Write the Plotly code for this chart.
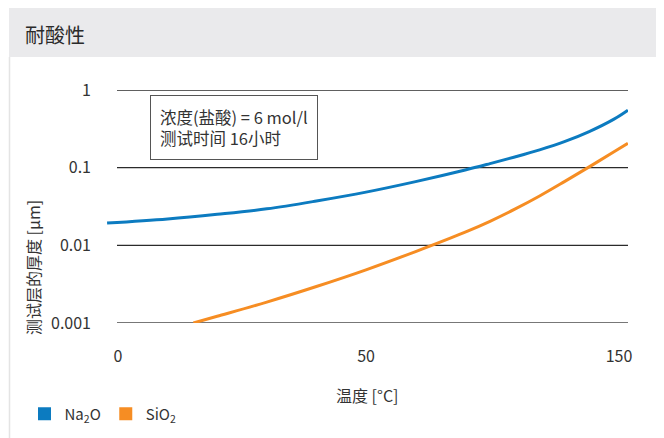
import plotly.graph_objects as go

# ---- data ----
blue_name = "Na<sub>2</sub>O"
blue_x = [-2.2, 10, 20, 30, 40, 50, 60, 70, 75, 80, 85, 90, 95, 100, 102.8]
blue_y = [0.0194, 0.0219, 0.0251, 0.0295, 0.0372, 0.0484, 0.0661, 0.0933, 0.1127, 0.1374, 0.1698,
          0.2163, 0.2917, 0.4217, 0.55]

orange_name = "SiO<sub>2</sub>"
orange_x = [15.2, 20, 30, 40, 50, 60, 70, 75, 80, 85, 90, 95, 100, 102.8]
orange_y = [0.00100, 0.00122, 0.00186, 0.00295, 0.00484, 0.00832, 0.01479, 0.0204, 0.0292, 0.0432,
            0.0661, 0.1023, 0.1603, 0.206]

x_tick_vals = [0, 50, 101]
x_tick_text = ["0", "50", "150"]
y_tick_vals = [1, 0.1, 0.01, 0.001]
y_tick_text = ["1", "0.1", "0.01", "0.001"]

title_text = "耐酸性"
x_title = "温度 [°C]"
y_title = "测试层的厚度 [μm]"
note_text = "浓度(盐酸) = 6 mol/l<br>测试时间 16小时"

BLUE = "#0c7bc0"
ORANGE = "#f68d23"
FONT = "Noto Sans CJK SC, Noto Sans, sans-serif"
TXT = "#333333"

OFF = 8  # page body margin
W, H = 664 - OFF, 438 - OFF
PL, PR, PT, PB = 105, 628, 90, 323  # plot area in page coordinates
ML, MR, MT, MB = PL - OFF, W - (PR - OFF), PT - OFF, H - (PB - OFF)
PW = PR - PL
PH = PB - PT


def px_x(p):
    return (p - PL) / PW


def px_y(p):
    return (PB - p) / PH


X0_PX, X_PER_UNIT = 118, 4.96

fig = go.Figure()
fig.add_trace(go.Scatter(x=blue_x, y=blue_y, mode="lines",
                         line=dict(color=BLUE, width=3, shape="spline", smoothing=1.0),
                         showlegend=False, hoverinfo="skip"))
fig.add_trace(go.Scatter(x=orange_x, y=orange_y, mode="lines",
                         line=dict(color=ORANGE, width=3, shape="spline", smoothing=1.0),
                         showlegend=False, hoverinfo="skip"))
# legend entries (square swatches)
fig.add_trace(go.Scatter(x=[None], y=[None], mode="markers", name=blue_name,
                         marker=dict(symbol="square", size=13, color=BLUE)))
fig.add_trace(go.Scatter(x=[None], y=[None], mode="markers", name=orange_name,
                         marker=dict(symbol="square", size=13, color=ORANGE)))

shapes = []
# header band
shapes.append(dict(type="rect", xref="paper", yref="paper", x0=px_x(9), x1=px_x(670),
                   y0=px_y(57), y1=px_y(6), fillcolor="#eaeaec", line=dict(width=0), layer="below"))
# left border
shapes.append(dict(type="line", xref="paper", yref="paper", x0=px_x(9.5), x1=px_x(9.5),
                   y0=px_y(57), y1=px_y(445), line=dict(color="#e4e4e4", width=1.5)))
# gridlines
for v in y_tick_vals:
    is_base = v == min(y_tick_vals)
    shapes.append(dict(type="line", xref="paper", yref="y", x0=px_x(117), x1=1, y0=v, y1=v,
                       line=dict(color="#777777" if is_base else "#2b2b2b", width=2 if is_base else 1.3),
                       layer="below"))

annotations = [
    dict(text=title_text, xref="paper", yref="paper", x=px_x(23), y=px_y(34), xanchor="left",
         yanchor="middle", showarrow=False, font=dict(size=20, color="#2a2a2a", family=FONT)),
    dict(text=note_text, xref="paper", yref="paper", x=px_x(150), y=px_y(95), xanchor="left",
         yanchor="top", showarrow=False, align="left", bordercolor="#555555", borderwidth=1,
         borderpad=9, bgcolor="white", font=dict(size=16.5, color=TXT, family=FONT)),
    dict(text=x_title, xref="paper", yref="paper", x=px_x(367), y=px_y(395), xanchor="center",
         yanchor="middle", showarrow=False, font=dict(size=16, color=TXT, family=FONT)),
    dict(text=y_title, xref="paper", yref="paper", x=px_x(33), y=px_y(268), xanchor="center",
         yanchor="middle", textangle=-90, showarrow=False, font=dict(size=16, color=TXT, family=FONT)),
]

fig.update_layout(
    width=W, height=H,
    margin=dict(l=ML, r=MR, t=MT, b=MB, autoexpand=False),
    paper_bgcolor="white", plot_bgcolor="white",
    font=dict(family=FONT, size=16, color=TXT),
    shapes=shapes, annotations=annotations,
    legend=dict(orientation="h", x=px_x(24.5), y=px_y(414), xanchor="left", yanchor="middle",
                font=dict(size=15, color=TXT, family=FONT), itemwidth=30, bgcolor="rgba(0,0,0,0)"),
    xaxis=dict(range=[(PL - X0_PX) / X_PER_UNIT, (PR - X0_PX) / X_PER_UNIT],
               tickvals=x_tick_vals, ticktext=x_tick_text,
               showgrid=False, zeroline=False, showline=False, ticks="", ticklabelstandoff=22,
               tickfont=dict(size=16, color=TXT)),
    yaxis=dict(type="log", range=[-3, 0], tickvals=y_tick_vals, ticktext=y_tick_text,
               showgrid=False, zeroline=False, showline=False, ticks="", ticklabelstandoff=13,
               tickfont=dict(size=16, color=TXT)),
)

fig.write_html("out.html")
